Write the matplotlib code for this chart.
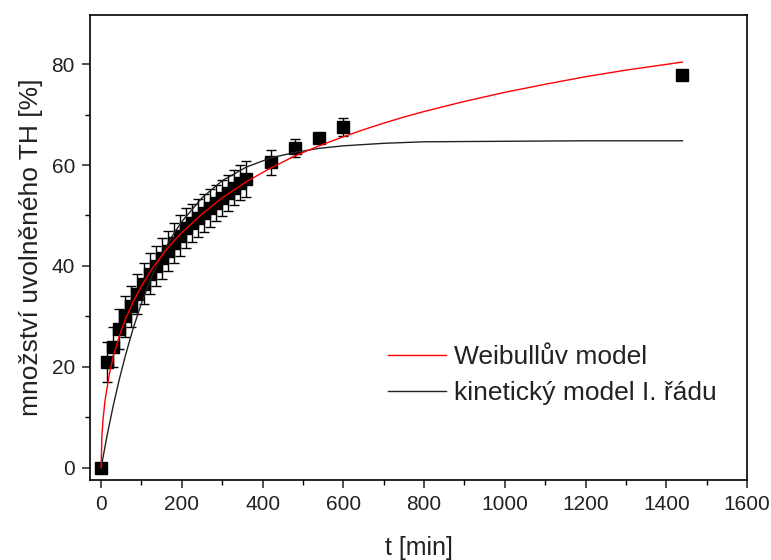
import numpy as np
import matplotlib
matplotlib.use("Agg")
import matplotlib.pyplot as plt
from matplotlib.ticker import MultipleLocator

plt.rcParams['font.family'] = ['Liberation Sans', 'DejaVu Sans']

# measured release (mean +- sd)
t_data = [0, 15, 30, 45, 60, 75, 90, 105, 120, 135, 150, 165, 180, 195, 210,
          225, 240, 255, 270, 285, 300, 315, 330, 345, 360, 420, 480, 540, 600, 1440]
y_data = [0.0, 21.0, 24.0, 27.5, 30.0, 32.0, 34.5, 36.5, 38.5, 40.0, 41.5, 43.0,
          44.5, 46.0, 47.5, 48.5, 49.5, 50.5, 51.5, 52.5, 53.5, 54.5, 55.5, 56.5,
          57.2, 60.5, 63.3, 65.3, 67.5, 77.8]
y_err = [0.0, 4.0, 4.0, 4.0, 4.0, 4.0, 4.0, 4.0, 4.0, 4.0, 4.0, 4.0, 4.0, 4.0, 4.0,
         3.8, 3.8, 3.8, 3.8, 3.6, 3.6, 3.6, 3.5, 3.5, 3.5, 2.5, 1.8, 0.8, 1.8, 0.8]

# Weibull model curve
t_weib = [0, 2, 5, 10, 20, 30, 45, 60, 80, 100, 125, 150, 175, 200, 250, 300, 360,
          420, 480, 540, 600, 650, 700, 750, 800, 900, 1000, 1100, 1200, 1300, 1440]
y_weib = [0.0, 6.4, 9.8, 13.5, 18.4, 22.0, 26.1, 29.4, 33.0, 36.0, 39.3, 42.0, 44.5,
          46.6, 50.3, 53.5, 56.7, 59.4, 61.8, 63.8, 65.6, 67.0, 68.3, 69.5, 70.6,
          72.6, 74.4, 76.0, 77.5, 78.8, 80.4]

# first order kinetic model curve
t_kin = [0, 15, 30, 45, 60, 80, 100, 125, 150, 175, 200, 250, 300, 360, 420, 480,
         540, 600, 700, 800, 1000, 1200, 1440]
y_kin = [0.0, 6.5, 12.3, 17.5, 22.2, 27.8, 32.6, 37.8, 42.1, 45.8, 48.8, 53.5, 56.9,
         59.6, 61.4, 62.5, 63.3, 63.8, 64.3, 64.6, 64.7, 64.8, 64.8]

fig = plt.figure(figsize=(7.71, 5.60), dpi=100)
ax = fig.add_axes([0.117, 0.143, 0.852, 0.830])

ax.errorbar(t_data, y_data, yerr=y_err, fmt='s', color='black', ms=8,
            ecolor='black', elinewidth=1.0, capsize=3.5, capthick=1.0, zorder=2)
ax.plot(t_kin, y_kin, color='#222222', lw=1.0, zorder=2.5,
        label='kinetický model I. řádu')
ax.plot(t_weib, y_weib, color='red', lw=1.0, zorder=3, label='Weibullův model')

ax.set_xlim(-27, 1600)
ax.set_ylim(-2.4, 89.7)
ax.xaxis.set_major_locator(MultipleLocator(200))
ax.xaxis.set_minor_locator(MultipleLocator(100))
ax.yaxis.set_major_locator(MultipleLocator(20))
ax.yaxis.set_minor_locator(MultipleLocator(10))
ax.tick_params(which='major', direction='out', length=6, width=1.1,
               labelsize=15, colors='#222222', pad=5)
ax.tick_params(which='minor', direction='out', length=3.5, width=1.0)
for s in ax.spines.values():
    s.set_linewidth(1.2)

ax.set_xlabel('t [min]', fontsize=18, color='#222222', labelpad=16)
ax.set_ylabel('množství uvolněného TH [%]', fontsize=19, color='#222222', labelpad=6)

h, l = ax.get_legend_handles_labels()
ax.legend([h[1], h[0]], [l[1], l[0]], loc='center left', bbox_to_anchor=(0.437, 0.226),
          borderaxespad=0, frameon=False, fontsize=19, handlelength=2.2,
          labelspacing=0.45, handletextpad=0.3, labelcolor='#222222')

fig.savefig('out.png', dpi=100)
